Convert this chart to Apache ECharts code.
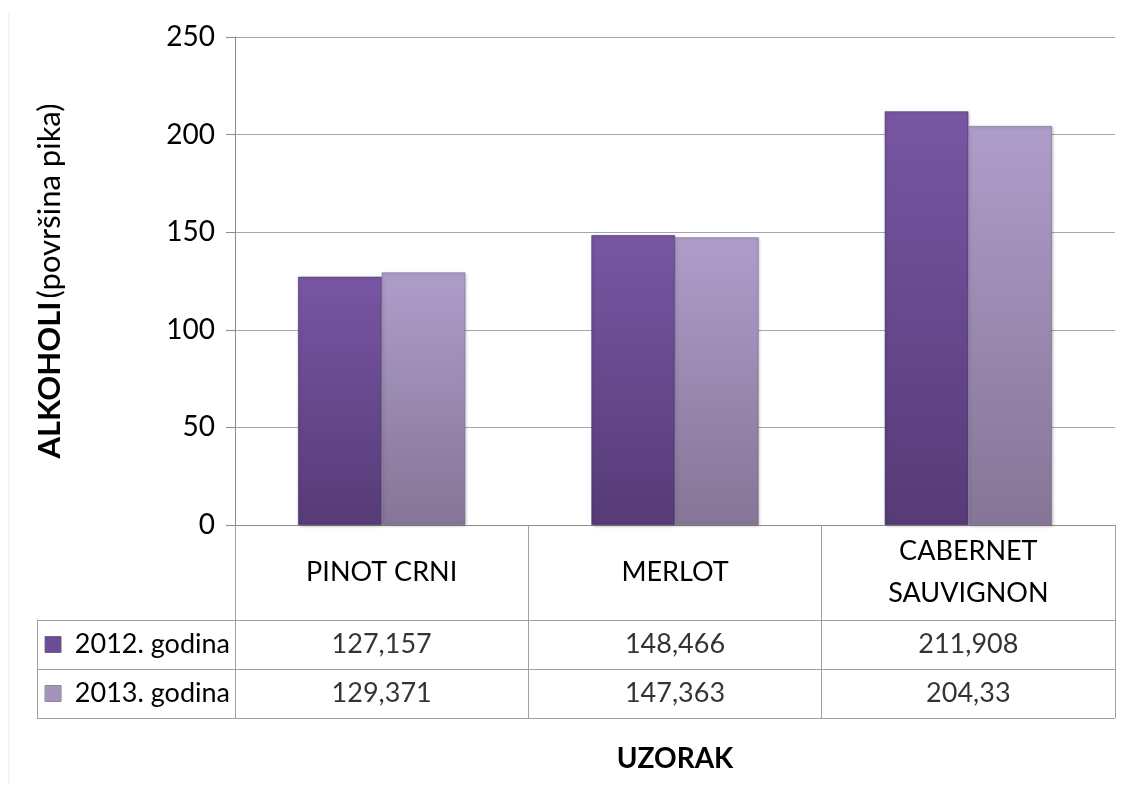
<!DOCTYPE html>
<html>
<head>
<meta charset="utf-8">
<script src="https://cdn.jsdelivr.net/npm/echarts@6/dist/echarts.min.js"></script>
<style>
  html, body { margin: 0; padding: 0; background: #fff; }
  #chart { width: 1125px; height: 785px; }
</style>
</head>
<body>
<div id="chart"></div>
<script>
// ---- data ----
const categories = ['PINOT CRNI', 'MERLOT', 'CABERNET\nSAUVIGNON'];
const seriesNames = ['2012. godina', '2013. godina'];
const values2012 = [127.157, 148.466, 211.908];
const values2013 = [129.371, 147.363, 204.33];
const yTicks = { min: 0, max: 250, interval: 50 };
const yAxisTitleBold = 'ALKOHOLI';
const yAxisTitleRest = '(površina pika)';
const xAxisTitle = 'UZORAK';

const FONT = 'Lato';
const seriesValues = [values2012, values2013];
const keyColors = ['#6a4d93', '#a493bd'];

function fmt(v) { return String(v).replace('.', ','); }

const gradients = [
  new echarts.graphic.LinearGradient(0, 0, 0, 1, [
    { offset: 0, color: '#7856a3' },
    { offset: 1, color: '#563b77' }
  ]),
  new echarts.graphic.LinearGradient(0, 0, 0, 1, [
    { offset: 0, color: '#ae9dca' },
    { offset: 1, color: '#857596' }
  ])
];

const tableCells = [];
seriesValues.forEach((arr, r) => {
  arr.forEach((v, c) => tableCells.push([c, r, v]));
});

const chart = echarts.init(document.getElementById('chart'), null, { renderer: 'canvas' });

chart.setOption({
  animation: false,
  backgroundColor: '#ffffff',
  textStyle: { fontFamily: FONT, color: '#000' },
  graphic: [{
    type: 'line',
    shape: { x1: 9, y1: 12, x2: 9, y2: 785 },
    style: { stroke: '#ececec', lineWidth: 1 }
  }],
  grid: [
    { left: 235, right: 10, top: 37, bottom: 260 },
    { left: 235, right: 10, top: 620, height: 98 }
  ],
  xAxis: [
    {
      type: 'category',
      gridIndex: 0,
      data: categories,
      boundaryGap: true,
      axisLine: { show: true, lineStyle: { color: '#8c8c8c', width: 1 } },
      axisTick: { show: true, length: 193, lineStyle: { color: '#a0a0a0', width: 1 } },
      axisLabel: {
        show: true, interval: 0, margin: 47, verticalAlign: 'middle',
        fontFamily: FONT, fontSize: 27, color: '#000', lineHeight: 42
      },
      name: xAxisTitle,
      nameLocation: 'middle',
      nameGap: 220,
      nameTextStyle: { fontFamily: FONT, fontSize: 28, fontWeight: 'bold', color: '#000' }
    },
    {
      type: 'category',
      gridIndex: 1,
      data: categories,
      boundaryGap: true,
      axisLine: { show: false },
      axisTick: { show: false },
      axisLabel: { show: false }
    }
  ],
  yAxis: [
    {
      type: 'value',
      gridIndex: 0,
      min: yTicks.min, max: yTicks.max, interval: yTicks.interval,
      axisLine: { show: true, lineStyle: { color: '#8c8c8c', width: 1 } },
      axisTick: { show: true, length: 9, lineStyle: { color: '#8c8c8c' } },
      axisLabel: { margin: 20, fontFamily: FONT, fontSize: 28, color: '#000' },
      splitLine: { show: true, lineStyle: { color: '#a6a6a6', width: 1 } },
      name: '{b|' + yAxisTitleBold + '} {n|' + yAxisTitleRest + '}',
      nameLocation: 'middle',
      nameGap: 170,
      nameRotate: 90,
      nameTextStyle: {
        rich: {
          b: { fontFamily: FONT, fontSize: 31, fontWeight: 'bold', color: '#000' },
          n: { fontFamily: FONT, fontSize: 31, color: '#000' }
        }
      }
    },
    {
      type: 'category',
      gridIndex: 1,
      data: seriesNames,
      inverse: true,
      boundaryGap: true,
      axisLine: { show: false },
      axisTick: { show: true, length: 198, lineStyle: { color: '#a0a0a0', width: 1 } },
      splitLine: { show: true, lineStyle: { color: '#a0a0a0', width: 1 } },
      axisLabel: {
        margin: 5,
        align: 'right',
        formatter: function (val, idx) { return '{k' + idx + '|}  ' + val; },
        fontFamily: FONT, fontSize: 27, color: '#000',
        rich: {
          k0: { width: 16, height: 16, backgroundColor: keyColors[0], borderColor: '#7a7a7a', borderWidth: 0.5 },
          k1: { width: 16, height: 16, backgroundColor: keyColors[1], borderColor: '#7a7a7a', borderWidth: 0.5 }
        }
      }
    },
    {
      type: 'category',
      gridIndex: 1,
      data: seriesNames,
      position: 'left',
      offset: 198,
      axisLine: { show: true, lineStyle: { color: '#a0a0a0', width: 1 } },
      axisTick: { show: false },
      axisLabel: { show: false }
    }
  ],
  series: [
    {
      name: seriesNames[0],
      type: 'bar',
      xAxisIndex: 0, yAxisIndex: 0,
      data: values2012,
      barGap: '0%',
      barCategoryGap: '43%',
      itemStyle: { color: gradients[0], borderColor: '#4e3670', borderWidth: 0.6,
        shadowColor: 'rgba(0,0,0,0.25)', shadowBlur: 3, shadowOffsetX: 1, shadowOffsetY: 1 }
    },
    {
      name: seriesNames[1],
      type: 'bar',
      xAxisIndex: 0, yAxisIndex: 0,
      data: values2013,
      barGap: '0%',
      barCategoryGap: '43%',
      itemStyle: { color: gradients[1], borderColor: '#7d6e92', borderWidth: 0.6,
        shadowColor: 'rgba(0,0,0,0.25)', shadowBlur: 3, shadowOffsetX: 1, shadowOffsetY: 1 }
    },
    {
      type: 'scatter',
      xAxisIndex: 1, yAxisIndex: 1,
      symbolSize: 1,
      itemStyle: { color: 'rgba(0,0,0,0)' },
      data: tableCells,
      silent: true,
      label: {
        show: true, position: 'inside',
        formatter: function (p) { return fmt(p.value[2]); },
        fontFamily: FONT, fontSize: 27, color: '#000'
      }
    }
  ]
});
</script>
</body>
</html>
